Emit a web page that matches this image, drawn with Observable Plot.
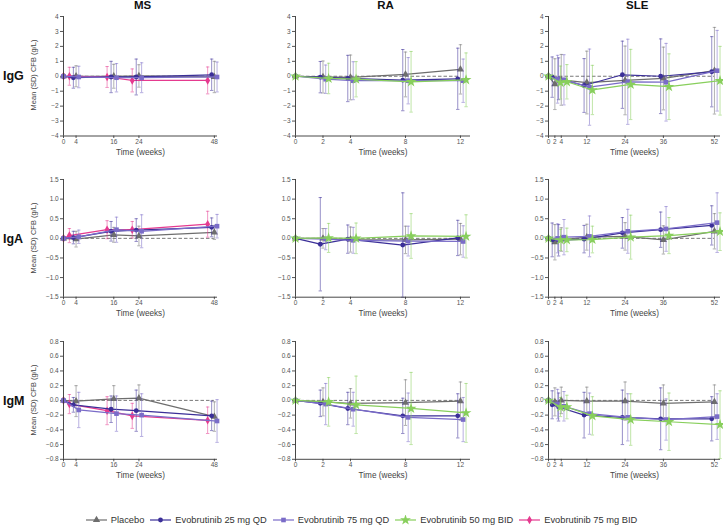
<!DOCTYPE html>
<html><head><meta charset="utf-8">
<script src="https://cdn.jsdelivr.net/npm/d3@7"></script>
<script src="https://cdn.jsdelivr.net/npm/@observablehq/plot@0.6"></script>
<style>
body{margin:0;background:#fff;font-family:"Liberation Sans",Arial,sans-serif;}
#chart{position:relative;width:723px;height:525px;overflow:hidden;background:#fff;}
.abs{position:absolute;}
.coltitle{font-weight:bold;font-size:11.5px;line-height:12px;transform:translateX(-50%);color:#111;white-space:nowrap;}
.rowlabel{font-weight:bold;font-size:12.5px;line-height:14px;transform:translateY(-50%);color:#111;}
.ylabel{font-size:7.5px;line-height:8px;color:#444;white-space:nowrap;transform:translate(-50%,-50%) rotate(-90deg);}
#legend{position:absolute;left:0;width:723px;top:514px;height:12px;display:flex;justify-content:center;align-items:center;font-size:9.3px;color:#333;white-space:nowrap;}
#legend .item{display:flex;align-items:center;margin:0 3px;}
#legend svg{margin-right:4px;}
</style></head><body><div id="chart"></div>
<script>
// ---------- DATA ----------
const diseases = ["MS", "RA", "SLE"];
const isotypes = ["IgG", "IgA", "IgM"];
const timesMS = [0, 4, 16, 24, 48];
const timesRA = [0, 2, 4, 8, 12];
const timesSLE = [0, 2, 4, 12, 24, 36, 52];
const seriesMS = ["Placebo", "Evobrutinib 25 mg QD", "Evobrutinib 75 mg QD", "Evobrutinib 75 mg BID"];
const seriesRA = ["Placebo", "Evobrutinib 25 mg QD", "Evobrutinib 75 mg QD", "Evobrutinib 50 mg BID"];
const seriesSLE = ["Placebo", "Evobrutinib 25 mg QD", "Evobrutinib 75 mg QD", "Evobrutinib 50 mg BID"];
const legendSeries = ["Placebo", "Evobrutinib 25 mg QD", "Evobrutinib 75 mg QD", "Evobrutinib 50 mg BID", "Evobrutinib 75 mg BID"];
const yTicksIgG = [-4, -3, -2, -1, 0, 1, 2, 3, 4];
const yTicksIgA = [-1.5, -1.0, -0.5, 0, 0.5, 1.0, 1.5];
const yTicksIgM = [-0.8, -0.6, -0.4, -0.2, 0, 0.2, 0.4, 0.6, 0.8];
const yLabel = "Mean (SD) CFB (g/L)";
const xLabel = "Time (weeks)";

// rows follow the series list of the column; columns follow the times list
const IgG_MS_mean = [
  [0, 0, 0, 0.02, -0.05],
  [0, -0.1, -0.05, -0.05, 0.1],
  [0, -0.05, -0.1, -0.1, -0.05],
  [0, 0, -0.05, -0.28, -0.28]];
const IgG_MS_sd = [
  [0, 0.7, 0.8, 0.75, 1.05],
  [0, 0.7, 1.05, 1.2, 1.05],
  [0, 0.72, 0.95, 1.0, 1.0],
  [0, 0.6, 0.7, 0.77, 0.9]];
const IgA_MS_mean = [
  [0, -0.02, 0.09, 0.06, 0.15],
  [0, 0.02, 0.18, 0.21, 0.28],
  [0, 0.04, 0.22, 0.18, 0.31],
  [0, 0.07, 0.22, 0.22, 0.36]];
const IgA_MS_sd = [
  [0, 0.2, 0.19, 0.25, 0.18],
  [0, 0.16, 0.25, 0.29, 0.24],
  [0, 0.17, 0.32, 0.42, 0.3],
  [0, 0.18, 0.23, 0.21, 0.33]];
const IgM_MS_mean = [
  [0, -0.01, 0.02, 0.03, -0.22],
  [0, -0.06, -0.12, -0.14, -0.21],
  [0, -0.13, -0.18, -0.2, -0.28],
  [0, -0.05, -0.14, -0.21, -0.27]];
const IgM_MS_sd = [
  [0, 0.21, 0.18, 0.18, 0.2],
  [0, 0.1, 0.18, 0.28, 0.2],
  [0, 0.24, 0.24, 0.29, 0.29],
  [0, 0.13, 0.19, 0.17, 0.18]];

const IgG_RA_mean = [
  [0, -0.05, -0.08, 0.12, 0.46],
  [0, -0.06, -0.15, -0.26, -0.17],
  [0, -0.2, -0.3, -0.3, -0.3],
  [0, -0.15, -0.2, -0.37, -0.24]];
const IgG_RA_sd = [
  [0, 1.07, 1.5, 1.5, 1.65],
  [0, 1.05, 1.55, 2.05, 2.05],
  [0, 0.95, 1.27, 1.55, 1.45],
  [0, 1.02, 1.18, 2.03, 1.8]];
const IgA_RA_mean = [
  [0, 0, -0.03, -0.04, -0.02],
  [0, -0.15, -0.02, -0.17, 0.01],
  [0, -0.02, -0.05, -0.07, -0.08],
  [0, 0.01, 0, 0.06, 0.05]];
const IgA_RA_sd = [
  [0, 0.25, 0.32, 0.35, 0.4],
  [0, 1.19, 0.36, 1.33, 0.45],
  [0, 0.27, 0.33, 0.38, 0.4],
  [0, 0.37, 0.39, 0.57, 0.55]];
const IgM_RA_mean = [
  [0, -0.02, -0.04, -0.03, -0.01],
  [0, -0.04, -0.11, -0.21, -0.21],
  [0, -0.05, -0.12, -0.23, -0.26],
  [0, -0.02, -0.06, -0.11, -0.17]];
const IgM_RA_sd = [
  [0, 0.19, 0.2, 0.31, 0.26],
  [0, 0.18, 0.22, 0.24, 0.3],
  [0, 0.28, 0.23, 0.33, 0.3],
  [0, 0.33, 0.39, 0.49, 0.4]];

const IgG_SLE_mean = [
  [0, -0.53, -0.24, -0.42, -0.28, -0.15, 0.37],
  [0, -0.06, -0.17, -0.62, 0.1, 0.0, 0.3],
  [0, -0.2, -0.24, -0.73, -0.37, -0.4, 0.37],
  [0, -0.42, -0.37, -0.92, -0.55, -0.7, -0.3]];
const IgG_SLE_sd = [
  [0, 1.7, 1.7, 2.1, 2.3, 2.1, 2.9],
  [0, 1.35, 1.4, 1.8, 2.25, 2.5, 2.35],
  [0, 1.6, 1.68, 2.55, 2.85, 2.6, 2.7],
  [0, 1.1, 1.15, 1.65, 2.35, 2.2, 2.3]];
const IgA_SLE_mean = [
  [0, -0.1, -0.03, 0.03, 0.05, -0.04, 0.18],
  [0, -0.04, -0.05, -0.02, 0.14, 0.22, 0.33],
  [0, 0, 0.03, 0.05, 0.18, 0.24, 0.4],
  [0, -0.04, -0.04, -0.03, 0.03, 0.07, 0.17]];
const IgA_SLE_sd = [
  [0, 0.45, 0.3, 0.33, 0.35, 0.36, 0.45],
  [0, 0.43, 0.4, 0.35, 0.39, 0.45, 0.5],
  [0, 0.37, 0.45, 0.52, 0.56, 0.57, 0.76],
  [0, 0.27, 0.3, 0.34, 0.56, 0.46, 0.48]];
const IgM_SLE_mean = [
  [0, -0.02, 0, -0.01, -0.01, -0.04, -0.02],
  [0, -0.06, -0.09, -0.2, -0.23, -0.25, -0.25],
  [0, -0.05, -0.08, -0.18, -0.23, -0.26, -0.22],
  [0, -0.09, -0.09, -0.21, -0.26, -0.29, -0.33]];
const IgM_SLE_sd = [
  [0, 0.19, 0.18, 0.19, 0.26, 0.25, 0.23],
  [0, 0.19, 0.19, 0.31, 0.37, 0.42, 0.3],
  [0, 0.2, 0.2, 0.28, 0.32, 0.28, 0.31],
  [0, 0.13, 0.16, 0.26, 0.35, 0.39, 0.46]];

// ---------- STYLE / LAYOUT ----------
const seriesStyle = {
  "Placebo": {color: "#6e6e6e", symbol: "triangle", r: 2.7, dodge: 0},
  "Evobrutinib 25 mg QD": {color: "#3b2f98", symbol: "circle", r: 2.4, dodge: -2.7},
  "Evobrutinib 75 mg QD": {color: "#7a6cc8", symbol: "square", r: 2.6, dodge: 2.7},
  "Evobrutinib 50 mg BID": {color: "#88cf5c", symbol: "star", r: 3.4, dodge: 5.6},
  "Evobrutinib 75 mg BID": {color: "#e53a8f", symbol: "diamond", r: 2.6, dodge: -6.7}
};
const drawOrder = ["Placebo", "Evobrutinib 75 mg BID", "Evobrutinib 25 mg QD", "Evobrutinib 75 mg QD", "Evobrutinib 50 mg BID"];
const colGeom = [
  {left: 62.5, width: 154, xmax: 49},
  {left: 295, width: 175, xmax: 12.73},
  {left: 548.3, width: 172, xmax: 53.9}];
const rowGeom = [
  {top: 15.5, height: 119.5},
  {top: 179, height: 117.7},
  {top: 340.7, height: 117.8}];
const M = {l: 42, r: 16, t: 8, b: 30};

const timesBy = {MS: timesMS, RA: timesRA, SLE: timesSLE};
const seriesBy = {MS: seriesMS, RA: seriesRA, SLE: seriesSLE};
const yTicksBy = {IgG: yTicksIgG, IgA: yTicksIgA, IgM: yTicksIgM};
const yFmtBy = {IgG: d3.format("d"), IgA: d3.format(".1f"), IgM: d3.format(".1f")};
const meanBy = {IgG_MS: IgG_MS_mean, IgA_MS: IgA_MS_mean, IgM_MS: IgM_MS_mean,
  IgG_RA: IgG_RA_mean, IgA_RA: IgA_RA_mean, IgM_RA: IgM_RA_mean,
  IgG_SLE: IgG_SLE_mean, IgA_SLE: IgA_SLE_mean, IgM_SLE: IgM_SLE_mean};
const sdBy = {IgG_MS: IgG_MS_sd, IgA_MS: IgA_MS_sd, IgM_MS: IgM_MS_sd,
  IgG_RA: IgG_RA_sd, IgA_RA: IgA_RA_sd, IgM_RA: IgM_RA_sd,
  IgG_SLE: IgG_SLE_sd, IgA_SLE: IgA_SLE_sd, IgM_SLE: IgM_SLE_sd};

const capSymbol = {draw(ctx, size) { const r = Math.sqrt(size / Math.PI); ctx.moveTo(-r, 0); ctx.lineTo(r, 0); }};

const chart = document.getElementById("chart");

function makePanel(ri, ci) {
  const iso = isotypes[ri], dis = diseases[ci];
  const cg = colGeom[ci], rg = rowGeom[ri];
  const times = timesBy[dis], series = seriesBy[dis];
  const means = meanBy[iso + "_" + dis], sds = sdBy[iso + "_" + dis];
  const yt = yTicksBy[iso];
  const pxPerWeek = cg.width / cg.xmax;
  const marks = [
    Plot.axisX({ticks: times, tickSize: 2.5, tickPadding: 1, tickFormat: d3.format("d"), label: null}),
    Plot.axisY({ticks: yt, tickSize: 3, tickPadding: 1.8, tickFormat: yFmtBy[iso], label: null}),
    Plot.ruleY([0], {x1: times[0], x2: times[times.length - 1], stroke: "#6a6a6a", strokeDasharray: "3.5,2", strokeWidth: 0.9})
  ];
  drawOrder.filter(s => series.includes(s)).forEach(s => {
    const si = series.indexOf(s), st = seriesStyle[s];
    const rows = times.map((t, j) => {
      const m = means[si][j], sd = sds[si][j];
      return {series: s, t, x: t === 0 ? t : t + st.dodge / pxPerWeek, mean: m, lo: m - sd, hi: m + sd};
    });
    const bars = rows.filter(d => d.t > 0);
    marks.push(
      Plot.ruleX(bars, {x: "x", y1: "lo", y2: "hi", stroke: st.color, strokeOpacity: 0.6, strokeWidth: 0.9}),
      Plot.dot(bars, {x: "x", y: "lo", symbol: capSymbol, r: 1.7, stroke: st.color, strokeOpacity: 0.6, strokeWidth: 0.9, fill: "none"}),
      Plot.dot(bars, {x: "x", y: "hi", symbol: capSymbol, r: 1.7, stroke: st.color, strokeOpacity: 0.6, strokeWidth: 0.9, fill: "none"}),
      Plot.line(rows, {x: "x", y: "mean", stroke: st.color, strokeWidth: 1.25}),
      Plot.dot(rows, {x: "x", y: "mean", symbol: st.symbol, r: st.r, fill: st.color, stroke: "none"})
    );
  });
  marks.push(
    Plot.ruleX([0], {stroke: "#333", strokeWidth: 0.9}),
    Plot.ruleY([yt[0]], {stroke: "#333", strokeWidth: 0.9}),
    Plot.text([xLabel], {frameAnchor: "bottom", dy: 19, fontSize: 8.2, fill: "#444"})
  );
  const svg = Plot.plot({
    width: M.l + cg.width + M.r, height: M.t + rg.height + M.b,
    marginLeft: M.l, marginRight: M.r, marginTop: M.t, marginBottom: M.b,
    x: {domain: [0, cg.xmax], label: null},
    y: {domain: [yt[0], yt[yt.length - 1]], label: null},
    style: {fontFamily: "'Liberation Sans', Arial, sans-serif", fontSize: "6.5px", color: "#555", background: "transparent", overflow: "visible"},
    marks
  });
  svg.classList.add("abs");
  svg.style.left = (cg.left - M.l) + "px";
  svg.style.top = (rg.top - M.t) + "px";
  chart.appendChild(svg);
}

for (let ri = 0; ri < 3; ri++) for (let ci = 0; ci < 3; ci++) makePanel(ri, ci);

diseases.forEach((d, ci) => {
  const el = document.createElement("div");
  el.className = "abs coltitle";
  el.textContent = d;
  el.style.left = (colGeom[ci].left + colGeom[ci].width / 2 + 3) + "px";
  el.style.top = "-1px";
  chart.appendChild(el);
});
isotypes.forEach((iso, ri) => {
  const el = document.createElement("div");
  el.className = "abs rowlabel";
  el.textContent = iso;
  el.style.left = "3px";
  el.style.top = (rowGeom[ri].top + rowGeom[ri].height / 2 + 1) + "px";
  chart.appendChild(el);
  const yl = document.createElement("div");
  yl.className = "abs ylabel";
  yl.textContent = yLabel;
  yl.style.left = "34px";
  yl.style.top = (rowGeom[ri].top + rowGeom[ri].height / 2) + "px";
  chart.appendChild(yl);
});

// legend
const legend = document.createElement("div");
legend.id = "legend";
const symType = {triangle: d3.symbolTriangle, circle: d3.symbolCircle, square: d3.symbolSquare, star: d3.symbolStar, diamond: d3.symbolDiamond};
legendSeries.forEach(s => {
  const st = seriesStyle[s];
  const item = document.createElement("div");
  item.className = "item";
  const sw = d3.create("svg").attr("width", 21).attr("height", 10);
  sw.append("line").attr("x1", 0).attr("x2", 21).attr("y1", 5).attr("y2", 5).attr("stroke", st.color).attr("stroke-width", 1.2);
  sw.append("path").attr("transform", "translate(10.5,5)").attr("d", d3.symbol(symType[st.symbol], st.r * st.r * Math.PI)()).attr("fill", st.color);
  item.appendChild(sw.node());
  const tx = document.createElement("span");
  tx.textContent = s;
  item.appendChild(tx);
  legend.appendChild(item);
});
chart.appendChild(legend);
</script></body></html>
